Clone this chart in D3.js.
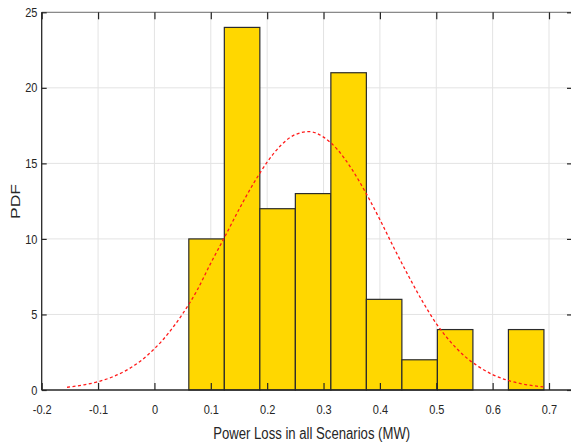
<!DOCTYPE html>
<html>
<head>
<meta charset="utf-8">
<script src="https://cdn.jsdelivr.net/npm/d3@7"></script>
<style>
  html, body { margin: 0; padding: 0; background: #fff; }
  svg { display: block; font-family: "Liberation Sans", Arial, sans-serif; }
</style>
</head>
<body>
<svg id="chart" width="571" height="444"></svg>
<script>
// ---- data ----
const binEdges = [0.061, 0.124, 0.187, 0.250, 0.313, 0.376, 0.439, 0.502, 0.565, 0.628, 0.691];
const binPdf   = [10, 24, 12, 13, 21, 6, 2, 4, 0, 4];
const curveX = [-0.155, -0.125, -0.1, -0.075, -0.05, -0.025, 0, 0.025, 0.05, 0.075, 0.1, 0.125, 0.15, 0.175,
                0.2, 0.225, 0.25, 0.275, 0.3, 0.325, 0.35, 0.375, 0.4, 0.425, 0.45, 0.475, 0.5, 0.525,
                0.55, 0.575, 0.6, 0.625, 0.65, 0.675, 0.69];
const curveY = [0.18, 0.34, 0.55, 0.86, 1.30, 1.91, 2.73, 3.77, 5.04, 6.55, 8.40, 10.15, 11.95, 13.62,
                15.08, 16.22, 16.91, 17.10, 16.74, 15.90, 14.63, 13.05, 11.28, 9.40, 7.60, 5.90, 4.40, 3.20,
                2.25, 1.55, 1.02, 0.66, 0.42, 0.27, 0.20];
const xTicks = [-0.2, -0.1, 0, 0.1, 0.2, 0.3, 0.4, 0.5, 0.6, 0.7];
const yTicks = [0, 5, 10, 15, 20, 25];
const xLabel = "Power Loss in all Scenarios (MW)";
const yLabel = "PDF";

// ---- layout ----
const svg = d3.select("#chart");
const pLeft = 41.7, pRight = 572, pTop = 12.3, pBottom = 390;
const x = d3.scaleLinear().domain([-0.2, 0.7]).range([pLeft, 549.0]);
const y = d3.scaleLinear().domain([0, 25]).range([pBottom, pTop]);

// grid
const grid = svg.append("g").attr("stroke", "#e3e3e3").attr("stroke-width", 1);
xTicks.forEach(t => {
  if (t === -0.2) return;
  grid.append("line").attr("x1", x(t)).attr("x2", x(t)).attr("y1", pTop).attr("y2", pBottom);
});
yTicks.forEach(t => {
  if (t === 0) return;
  grid.append("line").attr("x1", pLeft).attr("x2", pRight).attr("y1", y(t)).attr("y2", y(t));
});

// bars
svg.append("g").selectAll("rect").data(binPdf).join("rect")
  .attr("x", (d, i) => x(binEdges[i]))
  .attr("width", (d, i) => x(binEdges[i + 1]) - x(binEdges[i]))
  .attr("y", d => y(d))
  .attr("height", d => y(0) - y(d))
  .attr("fill", "#FFD700")
  .attr("stroke", d => d > 0 ? "#2b2b2b" : "none")
  .attr("stroke-width", 1.2);

// curve
const line = d3.line().x((d, i) => x(curveX[i])).y(d => y(d)).curve(d3.curveMonotoneX);
svg.append("path").datum(curveY)
  .attr("d", line)
  .attr("fill", "none")
  .attr("stroke", "#ff1a1a")
  .attr("stroke-width", 1.3)
  .attr("stroke-dasharray", "3,2.5");

// axes frame
svg.append("line").attr("x1", pLeft).attr("x2", pRight).attr("y1", pTop).attr("y2", pTop)
  .attr("stroke", "#8a8a8a").attr("stroke-width", 1.2);
svg.append("line").attr("x1", pRight - 0.5).attr("x2", pRight - 0.5).attr("y1", pTop).attr("y2", pBottom)
  .attr("stroke", "#8a8a8a").attr("stroke-width", 1);

// bottom axis (ticks inward)
const xAxis = d3.axisBottom(x).tickValues(xTicks).tickSize(-7).tickPadding(15)
  .tickFormat(d => d === 0 ? "0" : String(+d.toFixed(1)));
const gx = svg.append("g").attr("transform", `translate(0,${pBottom})`).call(xAxis);
gx.select(".domain").attr("d", `M${pLeft},0H${pRight}`).attr("stroke", "#262626").attr("stroke-width", 1.3);
gx.selectAll(".tick line").attr("stroke", "#262626").attr("stroke-width", 1.2);
gx.selectAll(".tick text").attr("font-size", 12.8).attr("fill", "#262626")
  .attr("font-family", "'Liberation Sans', Arial, sans-serif")
  .attr("transform", "scale(0.86,1)");

// top ticks
const gxt = svg.append("g").attr("transform", `translate(0,${pTop})`)
  .call(d3.axisTop(x).tickValues(xTicks).tickSize(-7).tickFormat(""));
gxt.select(".domain").remove();
gxt.selectAll(".tick line").attr("stroke", "#262626").attr("stroke-width", 1.2);

// left axis
const yAxis = d3.axisLeft(y).tickValues(yTicks).tickSize(-5).tickPadding(5);
const gy = svg.append("g").attr("transform", `translate(${pLeft},0)`).call(yAxis);
gy.select(".domain").attr("d", `M0,${pTop}V${pBottom}`).attr("stroke", "#262626").attr("stroke-width", 1.3);
gy.selectAll(".tick line").attr("stroke", "#262626").attr("stroke-width", 1.2);
gy.selectAll(".tick text").attr("font-size", 12.8).attr("fill", "#262626")
  .attr("font-family", "'Liberation Sans', Arial, sans-serif")
  .attr("transform", "scale(0.86,1)");

// right ticks
const gyr = svg.append("g").attr("transform", `translate(${pRight},0)`)
  .call(d3.axisRight(y).tickValues(yTicks).tickSize(-5).tickFormat(""));
gyr.select(".domain").remove();
gyr.selectAll(".tick line").attr("stroke", "#262626").attr("stroke-width", 1.2);

// labels
svg.append("text").attr("x", 311.7).attr("y", 438.5).attr("text-anchor", "middle")
  .attr("font-size", 16).attr("fill", "#262626")
  .attr("textLength", 197).attr("lengthAdjust", "spacingAndGlyphs").text(xLabel);
svg.append("text").attr("transform", "translate(20,201.5) rotate(-90)").attr("text-anchor", "middle")
  .attr("font-size", 12.5).attr("fill", "#262626")
  .attr("textLength", 35).attr("lengthAdjust", "spacingAndGlyphs").text(yLabel);
</script>
</body>
</html>
